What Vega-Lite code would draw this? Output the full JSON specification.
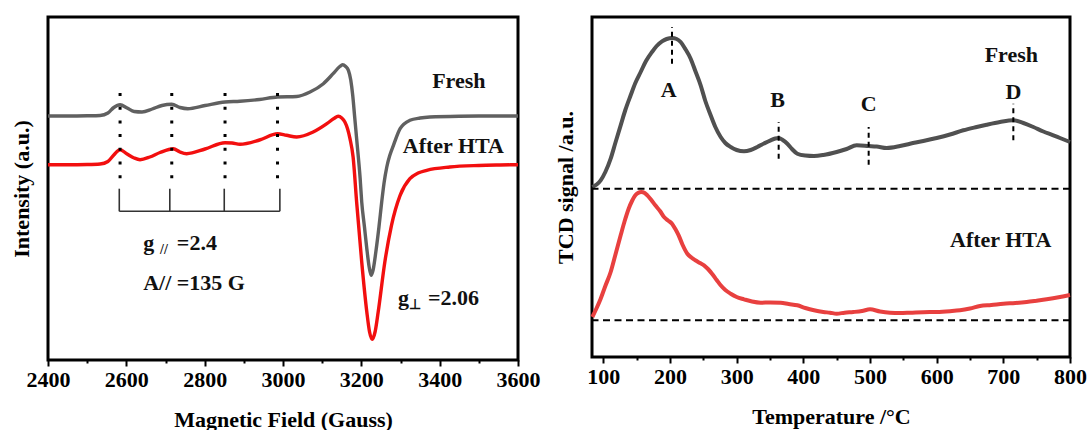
{
  "$schema": "https://vega.github.io/schema/vega-lite/v6.json",
  "padding": {"left": 8, "top": 15, "right": 0, "bottom": 0},
  "background": "white",
  "bounds": "flush",
  "spacing": 74,
  "config": {
    "view": {"stroke": "black", "strokeWidth": 3},
    "font": "Liberation Serif",
    "axis": {
      "labelFont": "Liberation Serif", "titleFont": "Liberation Serif",
      "labelFontWeight": "bold", "titleFontWeight": "bold",
      "labelFontSize": 22, "titleFontSize": 22,
      "labelColor": "black", "titleColor": "black",
      "tickColor": "black", "tickWidth": 2, "grid": false, "domain": false
    }
  },
  "datasets": {
    "epr_fresh": [
      {"G":2400,"v":244},{"G":2450,"v":244},{"G":2500,"v":244.2},{"G":2533,"v":244.5},{"G":2553,"v":247},{"G":2568,"v":252.5},{"G":2584,"v":255.3},{"G":2602,"v":252},{"G":2620,"v":248.5},{"G":2640,"v":248},{"G":2666,"v":251},{"G":2691,"v":254.5},{"G":2716,"v":255.7},{"G":2737,"v":252.5},{"G":2757,"v":251.3},{"G":2801,"v":254.5},{"G":2852,"v":258},{"G":2890,"v":258.7},{"G":2940,"v":260.5},{"G":2986,"v":263},{"G":3035,"v":263.5},{"G":3069,"v":268},{"G":3103,"v":276.3},{"G":3128,"v":286.3},{"G":3145,"v":293.5},{"G":3152,"v":295.3},{"G":3160,"v":293.5},{"G":3167,"v":289.7},{"G":3173,"v":280},{"G":3178,"v":264.7},{"G":3183,"v":243},{"G":3188,"v":221.3},{"G":3197,"v":181.3},{"G":3201,"v":158},{"G":3208,"v":133},{"G":3214,"v":111.3},{"G":3220,"v":93},{"G":3225,"v":84.7},{"G":3230,"v":90},{"G":3237,"v":108},{"G":3245,"v":133},{"G":3252,"v":158},{"G":3258,"v":177},{"G":3265,"v":193},{"G":3273,"v":205},{"G":3282,"v":214.7},{"G":3299,"v":231.3},{"G":3324,"v":239.7},{"G":3350,"v":242},{"G":3375,"v":243},{"G":3450,"v":243.8},{"G":3525,"v":244},{"G":3600,"v":244}
    ],
    "epr_hta": [
      {"G":2400,"v":195.3},{"G":2450,"v":195.3},{"G":2500,"v":195.5},{"G":2533,"v":196},{"G":2553,"v":198.5},{"G":2568,"v":205},{"G":2584,"v":210.3},{"G":2602,"v":206},{"G":2620,"v":202},{"G":2635,"v":200.3},{"G":2660,"v":203},{"G":2686,"v":207.5},{"G":2720,"v":211.3},{"G":2737,"v":208},{"G":2754,"v":206.3},{"G":2801,"v":211},{"G":2852,"v":217.3},{"G":2870,"v":217},{"G":2890,"v":215.7},{"G":2940,"v":220},{"G":2986,"v":226.3},{"G":3009,"v":224.7},{"G":3035,"v":223},{"G":3077,"v":228},{"G":3112,"v":236.3},{"G":3130,"v":241.5},{"G":3141,"v":243.7},{"G":3150,"v":242},{"G":3158,"v":238},{"G":3165,"v":231},{"G":3171,"v":221.3},{"G":3179,"v":203},{"G":3188,"v":158},{"G":3201,"v":98},{"G":3214,"v":48},{"G":3221,"v":28},{"G":3228,"v":20.7},{"G":3235,"v":28},{"G":3243,"v":48},{"G":3260,"v":98},{"G":3277,"v":134.7},{"G":3299,"v":164.7},{"G":3324,"v":181.3},{"G":3345,"v":187},{"G":3367,"v":189.7},{"G":3426,"v":193},{"G":3500,"v":194.5},{"G":3554,"v":195},{"G":3600,"v":195.3}
    ],
    "epr_dots": [
      {"G":2584,"y1":181,"y2":267},{"G":2716,"y1":181,"y2":267},{"G":2852,"y1":181,"y2":267},{"G":2986,"y1":181,"y2":267}
    ],
    "epr_bracket_v": [
      {"G":2582,"y1":148.7,"y2":171.3},{"G":2711,"y1":148.7,"y2":171.3},{"G":2850,"y1":148.7,"y2":171.3},{"G":2992,"y1":148.7,"y2":171.3}
    ],
    "epr_bracket_h": [{"G":2582,"G2":2992,"y1":148.7}],
    "epr_names": [
      {"G":3449,"v":279,"label":"Fresh"},
      {"G":3435,"v":214,"label":"After HTA"}
    ],
    "epr_notes": [
      {"G":2643,"v":110,"label":"g"},
      {"G":2729,"v":110,"label":"=2.4"},
      {"G":2643,"v":69.7,"label":"A// =135 G"},
      {"G":3293.5,"v":54.7,"label":"g"},
      {"G":3370,"v":54.7,"label":"=2.06"}
    ],
    "epr_subs": [
      {"G":2686,"v":106,"label":"//"},
      {"G":3322,"v":51.3,"label":"⊥"}
    ],
    "tpr_fresh": [
      {"T":83.5,"v":170},{"T":90,"v":172.5},{"T":96,"v":176.7},{"T":103,"v":185},{"T":111,"v":198.3},{"T":118,"v":214},{"T":126,"v":231.7},{"T":133,"v":247},{"T":141,"v":261.7},{"T":148,"v":274},{"T":156,"v":285},{"T":164,"v":296},{"T":173,"v":305},{"T":180,"v":311},{"T":188,"v":315.7},{"T":195,"v":318},{"T":203,"v":319},{"T":210,"v":318},{"T":216,"v":315},{"T":223,"v":308},{"T":231,"v":298.3},{"T":238,"v":286},{"T":246,"v":271.7},{"T":253,"v":256},{"T":261,"v":241.7},{"T":268,"v":230},{"T":276,"v":220},{"T":283,"v":214},{"T":291,"v":210},{"T":300,"v":207},{"T":311,"v":205.7},{"T":321,"v":207},{"T":331,"v":210},{"T":341,"v":213.5},{"T":351,"v":216.7},{"T":358,"v":218.5},{"T":363,"v":219},{"T":369,"v":217},{"T":376,"v":213.3},{"T":383,"v":208},{"T":391,"v":203.3},{"T":403,"v":201.5},{"T":416,"v":201},{"T":430,"v":202},{"T":450,"v":205},{"T":465,"v":208},{"T":480,"v":211.7},{"T":498,"v":211},{"T":510,"v":210.5},{"T":525,"v":209},{"T":545,"v":211},{"T":560,"v":213.3},{"T":580,"v":216},{"T":600,"v":219},{"T":620,"v":222.5},{"T":640,"v":226.7},{"T":660,"v":230},{"T":675,"v":232.3},{"T":695,"v":235},{"T":715,"v":236.7},{"T":730,"v":234},{"T":745,"v":230},{"T":760,"v":225.5},{"T":775,"v":221.7},{"T":785,"v":219},{"T":800,"v":215}
    ],
    "tpr_hta": [
      {"T":83.5,"v":40},{"T":90,"v":49},{"T":96,"v":58.3},{"T":103,"v":71},{"T":111,"v":85},{"T":118,"v":102},{"T":126,"v":121.7},{"T":132,"v":136},{"T":138,"v":148.3},{"T":143,"v":156},{"T":148,"v":161.7},{"T":152,"v":164},{"T":157,"v":165},{"T":162,"v":164},{"T":166,"v":161.7},{"T":172,"v":157},{"T":178,"v":151.7},{"T":185,"v":146},{"T":191,"v":140},{"T":197,"v":136.5},{"T":203,"v":133.3},{"T":208,"v":128},{"T":213,"v":121.7},{"T":219,"v":112},{"T":226,"v":103.3},{"T":232,"v":99.5},{"T":238,"v":96.7},{"T":245,"v":94},{"T":251,"v":91.7},{"T":257,"v":88},{"T":263,"v":83.3},{"T":270,"v":77},{"T":276,"v":71.7},{"T":283,"v":67},{"T":291,"v":63.3},{"T":300,"v":60},{"T":311,"v":57.7},{"T":323,"v":55.5},{"T":336,"v":54.3},{"T":350,"v":54.5},{"T":366,"v":54.3},{"T":378,"v":53},{"T":391,"v":51.7},{"T":403,"v":49},{"T":416,"v":46.7},{"T":430,"v":45},{"T":440,"v":44.3},{"T":450,"v":43.3},{"T":462,"v":44.3},{"T":475,"v":45},{"T":488,"v":46},{"T":500,"v":47.7},{"T":515,"v":45.5},{"T":530,"v":44.3},{"T":545,"v":44},{"T":560,"v":44.3},{"T":580,"v":44.8},{"T":600,"v":45},{"T":620,"v":45.8},{"T":635,"v":46.7},{"T":650,"v":48.5},{"T":665,"v":51},{"T":682,"v":52},{"T":700,"v":53.3},{"T":718,"v":54},{"T":735,"v":55},{"T":750,"v":56.3},{"T":765,"v":57.7},{"T":785,"v":60},{"T":800,"v":62}
    ],
    "tpr_base": [{"y1":168.3},{"y1":36.7}],
    "tpr_peaks": [
      {"T":203,"y1":293.3,"y2":330},
      {"T":363,"y1":198.3,"y2":235},
      {"T":498,"y1":192.3,"y2":230},
      {"T":715,"y1":216.7,"y2":253.3}
    ],
    "tpr_letters": [
      {"T":198,"v":266.7,"label":"A"},
      {"T":361.5,"v":256.7,"label":"B"},
      {"T":498,"v":253.3,"label":"C"},
      {"T":715,"v":265,"label":"D"},
      {"T":712,"v":302.5,"label":"Fresh"},
      {"T":696,"v":117.5,"label":"After HTA"}
    ]
  },
  "hconcat": [
    {
      "width": 470,
      "height": 343,
      "encoding": {
        "x": {"type": "quantitative", "title": "Magnetic Field (Gauss)", "scale": {"domain": [2400, 3600], "nice": false, "zero": false},
          "axis": {"values": [2400,2500,2600,2700,2800,2900,3000,3100,3200,3300,3400,3500,3600], "format": "d",
            "labelExpr": "datum.value % 200 === 0 ? datum.label : ''", "labelOverlap": false, "labelFlush": false,
            "tickSize": {"condition": {"test": "datum.value % 200 === 0", "value": 6}, "value": 3},
            "labelPadding": 3, "titlePadding": 19}},
        "y": {"type": "quantitative", "title": "Intensity (a.u.)", "scale": {"domain": [0, 343], "nice": false, "zero": false},
          "axis": {"labels": false, "ticks": false, "titlePadding": 15}}
      },
      "layer": [
        {
          "data": {"name": "epr_fresh"},
          "mark": {"type": "line", "color": "#606060", "strokeWidth": 3.4, "interpolate": "monotone"},
          "encoding": {"x": {"field": "G"}, "y": {"field": "v"}}
        },
        {
          "data": {"name": "epr_hta"},
          "mark": {"type": "line", "color": "#f20f0f", "strokeWidth": 3.4, "interpolate": "monotone"},
          "encoding": {"x": {"field": "G"}, "y": {"field": "v"}}
        },
        {
          "data": {"name": "epr_dots"},
          "mark": {"type": "rule", "color": "black", "strokeWidth": 3, "strokeDash": [3, 10.7]},
          "encoding": {"x": {"field": "G"}, "y": {"field": "y2"}, "y2": {"field": "y1"}}
        },
        {
          "data": {"name": "epr_bracket_v"},
          "mark": {"type": "rule", "color": "#333333", "strokeWidth": 1.6},
          "encoding": {"x": {"field": "G"}, "y": {"field": "y1"}, "y2": {"field": "y2"}}
        },
        {
          "data": {"name": "epr_bracket_h"},
          "mark": {"type": "rule", "color": "#333333", "strokeWidth": 1.6},
          "encoding": {"x": {"field": "G"}, "x2": {"field": "G2"}, "y": {"field": "y1"}}
        },
        {
          "data": {"name": "epr_names"},
          "mark": {"type": "text", "font": "Liberation Serif", "fontWeight": "bold", "fontSize": 22, "align": "center", "baseline": "middle", "color": "#111111"},
          "encoding": {"x": {"field": "G"}, "y": {"field": "v"}, "text": {"field": "label"}}
        },
        {
          "data": {"name": "epr_notes"},
          "mark": {"type": "text", "font": "Liberation Serif", "fontWeight": "bold", "fontSize": 22, "align": "left", "baseline": "alphabetic", "color": "#111111"},
          "encoding": {"x": {"field": "G"}, "y": {"field": "v"}, "text": {"field": "label"}}
        },
        {
          "data": {"name": "epr_subs"},
          "mark": {"type": "text", "font": "Liberation Serif", "fontWeight": "bold", "fontSize": 14, "align": "left", "baseline": "alphabetic", "color": "#111111"},
          "encoding": {"x": {"field": "G"}, "y": {"field": "v"}, "text": {"field": "label"}}
        }
      ]
    },
    {
      "width": 478,
      "height": 340,
      "encoding": {
        "x": {"type": "quantitative", "title": "Temperature /°C", "scale": {"domain": [83, 800], "nice": false, "zero": false},
          "axis": {"values": [100,150,200,250,300,350,400,450,500,550,600,650,700,750,800], "format": "d",
            "labelExpr": "datum.value % 100 === 0 ? datum.label : ''", "labelOverlap": false, "labelFlush": false,
            "tickSize": {"condition": {"test": "datum.value % 100 === 0", "value": 6}, "value": 3},
            "labelPadding": 3, "titlePadding": 19}},
        "y": {"type": "quantitative", "title": "TCD signal /a.u.", "scale": {"domain": [0, 340], "nice": false, "zero": false},
          "axis": {"labels": false, "ticks": false, "titlePadding": 15}}
      },
      "layer": [
        {
          "data": {"name": "tpr_fresh"},
          "mark": {"type": "line", "color": "#505050", "strokeWidth": 4, "interpolate": "monotone"},
          "encoding": {"x": {"field": "T"}, "y": {"field": "v"}}
        },
        {
          "data": {"name": "tpr_hta"},
          "mark": {"type": "line", "color": "#e8403f", "strokeWidth": 4, "interpolate": "monotone"},
          "encoding": {"x": {"field": "T"}, "y": {"field": "v"}}
        },
        {
          "data": {"name": "tpr_base"},
          "mark": {"type": "rule", "color": "black", "strokeWidth": 2, "strokeDash": [7, 4.5]},
          "encoding": {"y": {"field": "y1"}}
        },
        {
          "data": {"name": "tpr_peaks"},
          "mark": {"type": "rule", "color": "black", "strokeWidth": 2, "strokeDash": [5, 4]},
          "encoding": {"x": {"field": "T"}, "y": {"field": "y1"}, "y2": {"field": "y2"}}
        },
        {
          "data": {"name": "tpr_letters"},
          "mark": {"type": "text", "font": "Liberation Serif", "fontWeight": "bold", "fontSize": 22, "align": "center", "baseline": "middle", "color": "#111111"},
          "encoding": {"x": {"field": "T"}, "y": {"field": "v"}, "text": {"field": "label"}}
        }
      ]
    }
  ]
}
